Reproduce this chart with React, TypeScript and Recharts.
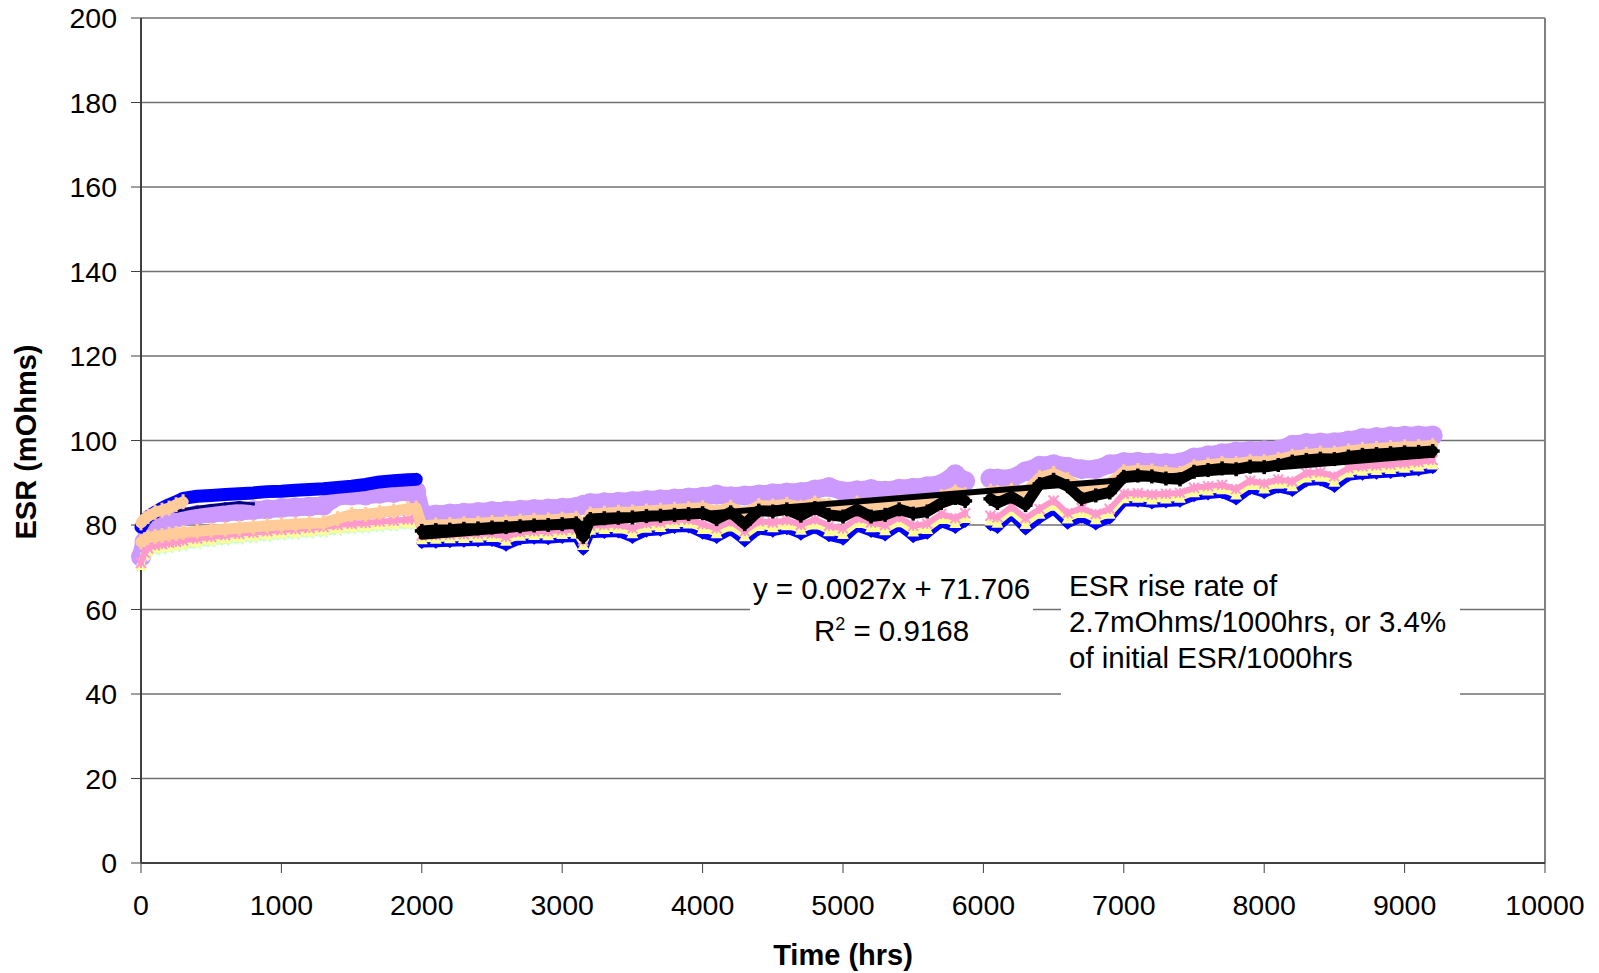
import React from 'react';
import { ScatterChart, Scatter, XAxis, YAxis, CartesianGrid, ReferenceLine } from 'recharts';

const FONT = '"Liberation Sans", Arial, sans-serif';

const xTicks = [0, 1000, 2000, 3000, 4000, 5000, 6000, 7000, 8000, 9000, 10000];
const yTicks = [0, 20, 40, 60, 80, 100, 120, 140, 160, 180, 200];

// first test run (before the rig was restarted at ~2000 hrs)
const hoursEarly = [0, 25, 50, 100, 150, 200, 250, 300, 400, 500, 600, 700, 800, 900, 1000, 1100, 1200, 1300, 1400, 1500, 1600, 1700, 1800, 1900, 1960];
// second run, logger was down between ~5900 and ~6000 hrs
const hoursLate = [
  2000, 2100, 2200, 2300, 2400, 2500, 2600, 2700, 2800, 2900, 3000, 3100, 3150, 3200, 3300, 3400, 3500, 3600, 3700, 3800, 3900,
  4000, 4100, 4200, 4300, 4400, 4500, 4600, 4700, 4800, 4900, 5000, 5100, 5200, 5300, 5400, 5500, 5600, 5700, 5800, 5870,
  6050, 6100, 6200, 6300, 6400, 6500, 6600, 6700, 6800, 6900, 7000, 7100, 7200, 7300, 7400, 7500, 7600, 7700, 7800, 7900,
  8000, 8100, 8200, 8300, 8400, 8500, 8600, 8700, 8800, 8900, 9000, 9100, 9200,
];

const blueEarly = [79.5, 81, 82, 83, 84, 84.8, 85.5, 86.3, 86.8, 87, 87.2, 87.4, 87.6, 87.9, 88, 88.2, 88.4, 88.6, 88.9, 89.2, 89.6, 90.2, 90.5, 90.7, 90.8];
const blueLate = [
  75.6, 75.7, 75.8, 75.9, 76.0, 76.1, 75.0, 76.4, 76.6, 76.5, 76.8, 76.9, 74.0, 77.8, 78.0, 78.1, 76.8, 78.3, 78.5, 79.2, 79.3,
  77.8, 76.8, 78.6, 76.0, 78.7, 78.3, 78.9, 77.6, 79.1, 77.2, 76.4, 79.4, 78.2, 77.4, 79.6, 77.0, 77.8, 80.4, 79.2, 80.6,
  79.8, 79.2, 82.2, 78.8, 81.4, 83.4, 80.2, 81.6, 80.0, 81.4, 85.3, 85.4, 85.0, 85.2, 85.4, 86.7, 87.1, 87.4, 85.9, 88.4,
  87.4, 88.7, 87.9, 90.2, 90.4, 88.9, 91.4, 91.8, 92.0, 92.2, 92.5, 92.8, 93.3,
];

const navyEarly = [null, null, null, null, null, null, 83.2, 83.6, 84.2, 84.6, 85.0, 85.3, 85.0, null, null, null, null, null, null, null, null, null, null, null, null];

const greenEarly = [70, 72.5, 73.3, 73.8, 74, 74.3, 74.6, 74.8, 75.3, 75.7, 76.1, 76.4, 76.7, 77, 77.3, 77.5, 77.8, 78, 78.5, 78.8, 79, 79.3, 79.5, 79.8, 80.1];

const yellowEarly = [70.5, 73, 74, 74.5, 74.8, 75, 75.3, 75.5, 76, 76.4, 76.8, 77.1, 77.4, 77.7, 78, 78.2, 78.5, 78.7, 79.2, 79.5, 79.7, 80, 80.2, 80.5, 80.8];
const yellowLate = [
  76.6, 76.7, 76.8, 76.9, 77.0, 77.1, 76.2, 77.4, 77.6, 77.5, 77.8, 77.9, 75.2, 78.8, 79.0, 79.1, 78.0, 79.3, 79.5, 80.2, 80.3,
  79.0, 78.0, 79.6, 77.3, 79.7, 79.4, 79.9, 78.8, 80.1, 78.5, 77.8, 80.4, 79.4, 78.7, 80.6, 78.4, 79.0, 81.4, 80.4, 81.6,
  81.0, 80.5, 83.2, 80.2, 82.6, 84.5, 81.5, 82.8, 81.3, 82.6, 86.3, 86.4, 86.0, 86.2, 86.4, 87.7, 88.1, 88.4, 87.2, 89.4,
  88.6, 89.7, 89.1, 91.2, 91.4, 90.2, 92.4, 92.8, 93.0, 93.2, 93.5, 93.8, 94.3,
];

const pinkEarly = [71, 73.5, 74.5, 75.2, 75.5, 75.8, 76, 76.3, 76.8, 77.2, 77.6, 77.9, 78.2, 78.5, 78.8, 79, 79.3, 79.5, 80, 80.3, 80.5, 80.8, 81, 81.3, 81.6];
const pinkLate = [
  77.5, 77.6, 77.7, 77.8, 77.9, 78.0, 77.2, 78.3, 78.5, 78.5, 78.8, 78.9, 76.3, 79.8, 80.0, 80.1, 79.2, 80.4, 80.6, 81.2, 81.3,
  80.2, 79.2, 80.8, 78.5, 80.9, 80.6, 81.1, 80.0, 81.3, 79.8, 79.2, 81.6, 80.6, 80.0, 81.8, 79.8, 80.3, 82.6, 81.6, 82.8,
  82.2, 81.8, 84.3, 81.6, 83.8, 85.8, 82.8, 84.0, 82.6, 83.8, 87.4, 87.5, 87.2, 87.4, 87.6, 88.8, 89.2, 89.5, 88.5, 90.5,
  89.8, 90.8, 90.3, 92.3, 92.5, 91.5, 93.5, 93.9, 94.1, 94.3, 94.6, 94.9, 95.4,
];

const peachEarly = [76, 76.5, 77, 77.3, 77.5, 77.8, 78, 78.2, 78.5, 78.8, 79, 79.3, 79.5, 79.8, 80, 80.2, 80.4, 80.5, 81.5, 82.5, 82.5, 83, 83.3, 83.8, 84];
const peachStartEarly = [80.5, 81.5, 82, 83, 83.5, 84, 84.8, 85.5, null, null, null, null, null, null, null, null, null, null, null, null, null, null, null, null, null];
const peachLate = [
  79.8, 80.0, 80.1, 80.3, 80.4, 80.6, 80.7, 80.9, 81.1, 81.2, 81.4, 81.6, 78.7, 82.6, 82.8, 83.0, 83.1, 83.3, 83.5, 83.7, 83.9,
  84.1, 83.2, 84.2, 82.7, 84.6, 84.5, 84.9, 84.2, 85.2, 84.7, 84.2, 85.2, 84.7, 85.0, 85.4, 85.2, 85.7, 86.7, 87.8, 87.2,
  88.0, 87.7, 88.2, 87.7, 91.2, 92.2, 90.7, 88.7, 89.0, 89.7, 92.6, 92.9, 92.8, 92.4, 92.2, 93.8, 94.2, 94.6, 94.5, 95.0,
  95.0, 95.5, 96.3, 96.7, 97.0, 97.0, 97.5, 97.9, 98.1, 98.3, 98.5, 98.6, 98.8,
];

const lavenderEarly = [72.5, 76, 78, 80, 80.8, 81.3, 81.7, 82, 82.4, 82.7, 83, 83.2, 83.5, 83.7, 84, 84.2, 84.4, 84.6, 86.8, 87, 87, 87.4, 87.6, 87.9, 88];
const lavenderLate = [
  82.3, 82.5, 82.7, 82.9, 83.1, 83.3, 83.4, 83.6, 83.8, 83.9, 84.1, 84.3, 84.8, 85.2, 85.4, 85.5, 85.7, 85.9, 86.1, 86.3, 86.5,
  86.7, 87.2, 86.8, 87.0, 87.2, 87.5, 87.7, 87.8, 88.4, 89.0, 88.0, 88.2, 88.5, 88.1, 88.6, 88.8, 89.2, 89.7, 92.0, 90.4,
  91.0, 91.0, 91.0, 92.7, 94.0, 94.4, 93.8, 93.2, 93.2, 94.4, 94.9, 95.0, 94.8, 94.7, 94.8, 96.0, 96.5, 97.0, 97.4, 97.6,
  97.7, 97.8, 99.0, 99.4, 99.5, 99.6, 100.0, 100.6, 100.8, 101.0, 101.1, 101.2, 101.2,
];

const blackLate = [
  78.6, 78.8, 78.9, 79.1, 79.2, 79.4, 79.5, 79.7, 79.9, 80.0, 80.2, 80.4, 77.2, 81.4, 81.6, 81.7, 81.8, 82.1, 82.2, 82.4, 82.6,
  82.8, 81.4, 83.0, 80.2, 83.4, 83.2, 83.7, 82.2, 84.0, 82.4, 82.0, 83.7, 82.0, 82.4, 83.7, 82.7, 83.2, 85.2, 86.4, 85.7,
  86.2, 85.2, 86.7, 84.7, 89.7, 90.7, 89.2, 86.2, 87.0, 87.7, 91.4, 91.7, 91.5, 91.0, 90.8, 92.6, 93.0, 93.4, 93.2, 93.8,
  93.7, 94.2, 95.0, 95.4, 95.7, 95.6, 96.2, 96.6, 96.8, 97.0, 97.2, 97.3, 97.5,
];

// linear fit over the second run, ends
const trendHours = [2000, 9200];
const trendValues = [77.2, 96.6];

type Pt = { x: number; y: number };

const toPoints = (hrs: number[], vals: (number | null)[]): Pt[] =>
  hrs.map((x, i) => ({ x, y: vals[i] as number })).filter((p) => p.y != null);

// break the line wherever the logger skipped a stretch
const splitRuns = (pts: Pt[]): Pt[][] => {
  const runs: Pt[][] = [];
  let cur: Pt[] = [];
  pts.forEach((p, i) => {
    if (i > 0 && p.x - pts[i - 1].x > 150) {
      runs.push(cur);
      cur = [];
    }
    cur.push(p);
  });
  if (cur.length) runs.push(cur);
  return runs;
};

const allHours = [...hoursEarly, ...hoursLate];
const joined = (early: (number | null)[], late: (number | null)[]) => splitRuns(toPoints(allHours, [...early, ...late]));

const circle = (r: number, fill: string) => (p: any) => <circle cx={p.cx} cy={p.cy} r={r} fill={fill} />;
const diamond = (w: number, h: number, fill: string) => (p: any) => (
  <polygon points={`${p.cx - w},${p.cy} ${p.cx},${p.cy - h} ${p.cx + w},${p.cy} ${p.cx},${p.cy + h}`} fill={fill} />
);
const triangle = (s: number, fill: string) => (p: any) => (
  <polygon points={`${p.cx - s},${p.cy + s * 0.8} ${p.cx},${p.cy - s} ${p.cx + s},${p.cy + s * 0.8}`} fill={fill} />
);
const star = (s: number, color: string) => (p: any) => (
  <g stroke={color} strokeWidth={2}>
    <line x1={p.cx} y1={p.cy - s} x2={p.cx} y2={p.cy + s} />
    <line x1={p.cx - s} y1={p.cy - s} x2={p.cx + s} y2={p.cy + s} />
    <line x1={p.cx - s} y1={p.cy + s} x2={p.cx + s} y2={p.cy - s} />
  </g>
);
const xMark = (s: number, color: string) => (p: any) => (
  <g stroke={color} strokeWidth={2}>
    <line x1={p.cx - s} y1={p.cy - s} x2={p.cx + s} y2={p.cy + s} />
    <line x1={p.cx - s} y1={p.cy + s} x2={p.cx + s} y2={p.cy - s} />
  </g>
);
const bar = (w: number, h: number, fill: string) => (p: any) => (
  <rect x={p.cx - w / 2} y={p.cy - h / 2} width={w} height={h} fill={fill} />
);
const plus = (s: number, t: number, fill: string) => (p: any) => (
  <g fill={fill}>
    <rect x={p.cx - s} y={p.cy - t / 2} width={2 * s} height={t} />
    <rect x={p.cx - t / 2} y={p.cy - s} width={t} height={2 * s} />
  </g>
);
const square = (s: number, fill: string) => (p: any) => (
  <rect x={p.cx - s} y={p.cy - s} width={2 * s} height={2 * s} fill={fill} />
);
const none = () => <g />;

type Run = { pts: Pt[]; w: number };
const runs = (list: Pt[][], w: number): Run[] => list.map((pts) => ({ pts, w }));

// drawing order = Excel series order (later ones sit on top)
const series = [
  { name: 'lavender', color: '#CC99FF', shape: circle(10, '#CC99FF'), runs: runs(joined(lavenderEarly, lavenderLate), 18) },
  {
    name: 'blue',
    color: '#0000FF',
    shape: diamond(6, 5.5, '#0000FF'),
    runs: [...runs([toPoints(hoursEarly, blueEarly)], 13), ...runs(splitRuns(toPoints(hoursLate, blueLate)), 8)],
  },
  { name: 'green', color: '#CCFFCC', shape: xMark(4, '#CCFFCC'), runs: runs([toPoints(hoursEarly, greenEarly)], 5) },
  { name: 'yellow', color: '#FFFF99', shape: triangle(6, '#FFFF99'), runs: runs(joined(yellowEarly, yellowLate), 6) },
  { name: 'pink', color: '#FF99CC', shape: star(5, '#FF99CC'), runs: runs(joined(pinkEarly, pinkLate), 6) },
  { name: 'navy', color: '#000080', shape: square(1.5, '#000080'), runs: runs([toPoints(hoursEarly, navyEarly)], 3) },
  {
    name: 'peach',
    color: '#FFCC99',
    shape: bar(3, 15, '#FFCC99'),
    runs: [...runs(joined(peachEarly, peachLate), 11), ...runs([toPoints(hoursEarly, peachStartEarly)], 11)],
  },
  { name: 'black', color: '#000000', shape: plus(7, 3.5, '#000000'), runs: runs(splitRuns(toPoints(hoursLate, blackLate)), 11) },
  { name: 'trend', color: '#000000', shape: none, runs: runs([toPoints(trendHours, trendValues)], 6) },
];

const tickStyle = { fontSize: 28.5, fill: '#000', fontFamily: FONT };
const noteStyle: React.CSSProperties = { position: 'absolute', fontSize: 29.5, lineHeight: '33px', whiteSpace: 'nowrap', color: '#000' };

export default function App() {
  return (
    <div style={{ position: 'absolute', left: 0, top: 0, width: 1599, height: 973, background: '#fff', fontFamily: FONT }}>
      <ScatterChart width={1599} height={973} margin={{ top: 18, right: 54, bottom: 0, left: 0 }}>
        <CartesianGrid horizontal vertical={false} stroke="#707070" strokeWidth={1.5} />
        <XAxis
          type="number"
          dataKey="x"
          domain={[0, 10000]}
          ticks={xTicks}
          interval={0}
          height={110}
          tick={tickStyle}
          tickSize={10}
          tickMargin={22}
          axisLine={{ stroke: '#404040', strokeWidth: 2 }}
          tickLine={{ stroke: '#404040' }}
        />
        <YAxis
          type="number"
          dataKey="y"
          domain={[0, 200]}
          ticks={yTicks}
          interval={0}
          width={141}
          tick={tickStyle}
          tickSize={10}
          tickMargin={14}
          axisLine={{ stroke: '#404040', strokeWidth: 2 }}
          tickLine={{ stroke: '#404040' }}
        />
        <ReferenceLine x={10000} stroke="#808080" strokeWidth={2} />
        {series.flatMap((s) =>
          s.runs.map((run, i) => (
            <Scatter
              key={`${s.name}-${i}`}
              data={run.pts}
              fill={s.color}
              shape={s.shape}
              line={{ stroke: s.color, strokeWidth: run.w, strokeLinejoin: 'round', strokeLinecap: 'round' }}
              lineType="joint"
              isAnimationActive={false}
            />
          ))
        )}
      </ScatterChart>

      <div style={{ position: 'absolute', left: 750, top: 565, width: 283, height: 85, background: '#fff' }}>
        <div style={{ ...noteStyle, left: 0, right: 0, top: 7, textAlign: 'center' }}>y = 0.0027x + 71.706</div>
        <div style={{ ...noteStyle, left: 0, right: 0, top: 49, textAlign: 'center' }}>
          R<span style={{ fontSize: 18, position: 'relative', top: -11 }}>2</span> = 0.9168
        </div>
      </div>

      <div style={{ position: 'absolute', left: 1061, top: 565, width: 399, height: 140, background: '#fff' }}>
        <div style={{ ...noteStyle, left: 8, top: 4 }}>ESR rise rate of</div>
        <div style={{ ...noteStyle, left: 8, top: 40 }}>2.7mOhms/1000hrs, or 3.4%</div>
        <div style={{ ...noteStyle, left: 8, top: 76 }}>of initial ESR/1000hrs</div>
      </div>

      <div
        style={{
          position: 'absolute',
          left: 26,
          top: 442,
          transform: 'translate(-50%, -50%) rotate(-90deg)',
          fontSize: 29,
          fontWeight: 'bold',
          whiteSpace: 'nowrap',
        }}
      >
        ESR (mOhms)
      </div>
      <div
        style={{
          position: 'absolute',
          left: 843,
          top: 955,
          transform: 'translate(-50%, -50%)',
          fontSize: 29,
          fontWeight: 'bold',
          whiteSpace: 'nowrap',
        }}
      >
        Time (hrs)
      </div>
    </div>
  );
}
